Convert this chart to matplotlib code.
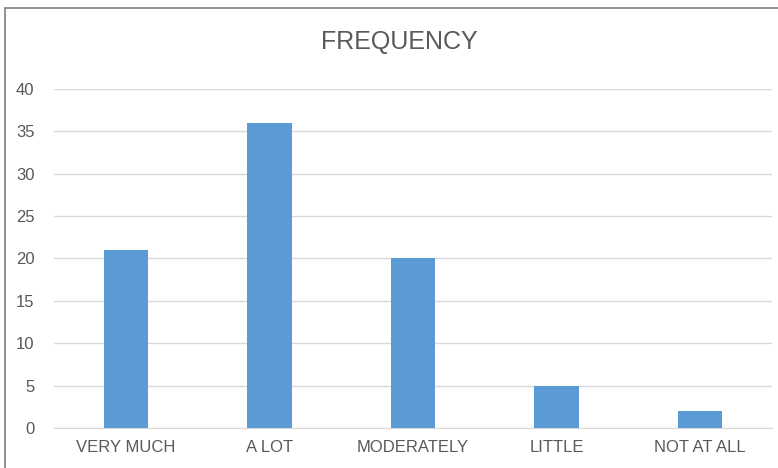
import matplotlib.pyplot as plt
from matplotlib.patches import Rectangle

# ---------------- data ----------------
categories = ['VERY MUCH', 'A LOT', 'MODERATELY', 'LITTLE', 'NOT AT ALL']
frequency = [21, 36, 20, 5, 2]
y_ticks = [0, 5, 10, 15, 20, 25, 30, 35, 40]

plt.rcParams['font.family'] = ['Liberation Sans Narrow', 'Liberation Sans', 'DejaVu Sans']

fig = plt.figure(figsize=(7.78, 4.68), dpi=100)
ax = fig.add_axes([0.0694, 0.0855, 0.9226, 0.7243])

x = range(len(categories))
ax.bar(x, frequency, width=0.31, color='#5B9BD5', zorder=3)

ax.set_xlim(-0.5, len(categories) - 0.5)
ax.set_ylim(0, 40)
ax.set_yticks(y_ticks)
ax.set_xticks(list(x))
ax.set_xticklabels(categories)
ax.tick_params(axis='both', length=0, colors='#595959', labelsize=12)
ax.tick_params(axis='y', pad=14)
ax.tick_params(axis='x', pad=9)

ax.grid(axis='y', color='#D9D9D9', linewidth=1, zorder=0)
for s in ['top', 'right', 'left']:
    ax.spines[s].set_visible(False)
ax.spines['bottom'].set_color('#D9D9D9')

fig.text(0.513, 0.91, 'FREQUENCY', ha='center', va='center', fontsize=18, color='#595959')

# outer border
fig.patches.append(Rectangle((0.006, -0.01), 1.1, 0.993, transform=fig.transFigure,
                             fill=False, edgecolor='#7F7F7F', linewidth=1.2))

fig.savefig('out.png', dpi=100)
